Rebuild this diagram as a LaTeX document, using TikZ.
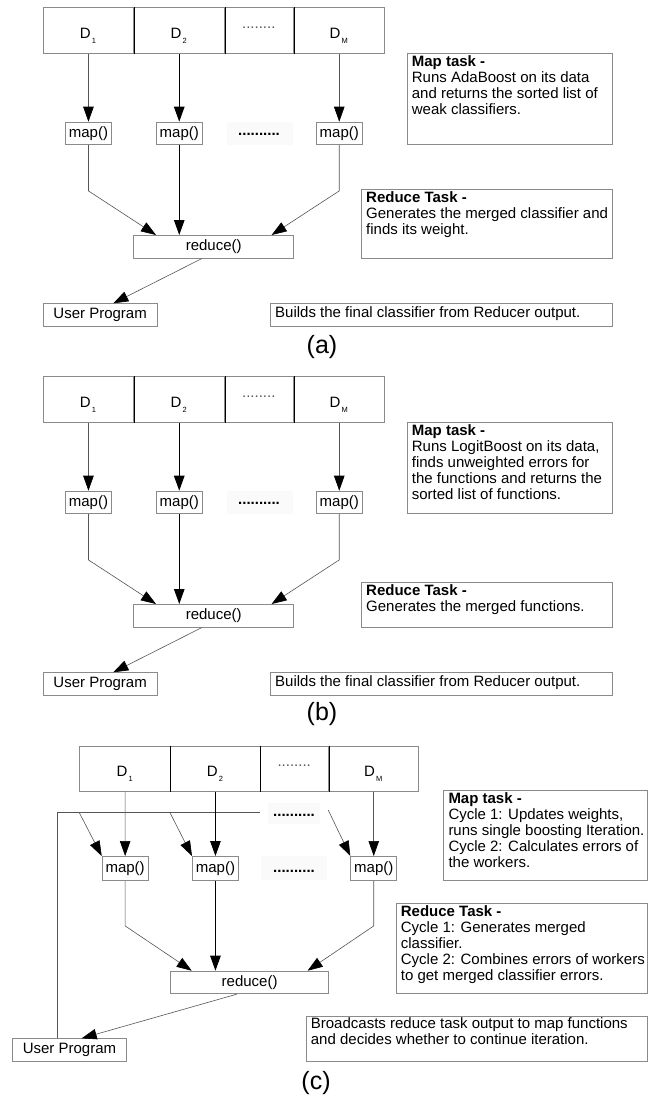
\documentclass[tikz,border=0pt]{standalone}
\usepackage{fontspec}
\setmainfont{Liberation Sans}
\usetikzlibrary{arrows.meta,calc}
\definecolor{boxgray}{HTML}{8A8A8A}
\definecolor{linegray}{HTML}{555555}
\definecolor{dotbg}{HTML}{FAFAFA}
\tikzset{
  every node/.style={font=\fontsize{15}{16}\selectfont},
  box/.style={draw=boxgray, line width=0.9pt, inner sep=0, anchor=north west},
  tip/.style={-{Triangle[length=15pt,width=10.5pt,color=black]}},
  thinline/.style={draw=linegray, line width=0.6pt},
  thickline/.style={draw=black, line width=1.1pt},
  divider/.style={draw=black, line width=1.1pt},
  txt/.style={anchor=base west, inner sep=0},
  dotsbg/.style={fill=dotbg, draw=none, inner sep=0, anchor=north west},
}
% [opts]{name}{x1}{y1}{x2}{y2}{text}
\newcommand\rbox[7][]{%
  \node[box,#1,minimum width={#5pt-#3pt},minimum height={#6pt-#4pt}] (#2) at (#3,#4) {#7};}
% {name}{x}{y}{text}
\newcommand\dtext[4]{%
  \node[txt] (#1) at (#2,#3) {\parbox[t]{420pt}{\raggedright #4}};}
\newcommand\dlab[1]{D\kern1.2pt\raisebox{-5pt}{\fontsize{7.5}{7.5}\selectfont #1}}

\newcommand\panelAB[1]{%
  \rbox{#1d1}{42.7}{7.3}{133.3}{53.3}{}
  \rbox{#1d2}{133.3}{7.3}{224.3}{53.3}{}
  \rbox{#1dd}{224.3}{7.3}{293.3}{53.3}{}
  \rbox{#1dm}{293.3}{7.3}{384.3}{53.3}{}
  \draw[divider] (#1d1.north east) -- (#1d1.south east);
  \draw[divider] (#1d2.north east) -- (#1d2.south east);
  \draw[divider] (#1dd.north east) -- (#1dd.south east);
  \node[anchor=base] (#1l1) at (88,38.3) {\dlab{1}};
  \node[anchor=base] (#1l2) at (178.8,38.3) {\dlab{2}};
  \node[anchor=base] (#1lm) at (338.8,38.3) {\dlab{M}};
  \node[anchor=base, text=linegray] (#1ld) at (258.8,28.5) {........};
  % map row
  \node[dotsbg, minimum width=66pt, minimum height=22.6pt] (#1mbg) at (226.7,121.7) {};
  \rbox{#1m1}{65}{121.7}{111}{144.3}{map()}
  \rbox{#1m2}{155.8}{121.7}{201.8}{144.3}{map()}
  \rbox{#1m3}{315.8}{121.7}{361.8}{144.3}{map()}
  \node[anchor=base, font=\fontsize{15}{16}\selectfont\bfseries] (#1md) at (259,135.5) {..........};
  % reduce, user
  \rbox{#1r}{133.3}{235}{293.3}{257.7}{reduce()}
  \rbox{#1u}{42.7}{303.3}{156.7}{326}{User Program}
  % connectors
  \draw[thinline,tip] (#1d1.south) -- (#1m1.north);
  \draw[thickline,tip] (#1d2.south) -- (#1m2.north);
  \draw[thinline,tip] (#1dm.south) -- (#1m3.north);
  \draw[thinline,tip] (#1m1.south) -- ++(0,45.7) -- ([xshift=22.7pt]#1r.north west);
  \draw[thickline,tip] (#1m2.south) -- (#1m2.south |- #1r.north);
  \draw[thinline,tip] (#1m3.south) -- ++(0,45.7) -- ([xshift=-22.6pt]#1r.north east);
  \draw[thinline,tip] ([xshift=68.4pt]#1r.south west) -- ([xshift=70.6pt]#1u.north west);
  % builds box
  \rbox{#1b}{270}{303.3}{611.7}{326}{}
  \dtext{#1bt}{275}{317.6}{Builds the final classifier from Reducer output.}
  % map task box
  \rbox{#1mt}{406.7}{53.3}{611.7}{144.3}{}
}

\begin{document}
\begin{tikzpicture}[x=1pt,y=-1pt]
\useasboundingbox[fill=white] (0,0) rectangle (658,1101);

% ---------------- (a)
\panelAB{a}
\dtext{amtt}{411.7}{66.8}{{\bfseries Map task -}\\Runs AdaBoost on its data\\and returns the sorted list of\\weak classifiers.}
\rbox{art}{361}{189.3}{611.7}{257.7}{}
\dtext{artt}{366}{202.8}{{\bfseries Reduce Task -}\\Generates the merged classifier and\\finds its weight.}
\node[font=\fontsize{25}{25}\selectfont] (acap) at (322,347) {(a)};

% ---------------- (b)
\begin{scope}[shift={(0,369)}]
\panelAB{b}
\dtext{bmtt}{411.7}{66.8}{{\bfseries Map task -}\\Runs LogitBoost on its data,\\finds unweighted errors for\\the functions and returns the\\sorted list of functions.}
\rbox{brt}{361}{212.7}{611.7}{257.7}{}
\dtext{brtt}{366}{226.2}{{\bfseries Reduce Task -}\\Generates the merged functions.}
\node[font=\fontsize{25}{25}\selectfont] (bcap) at (322,345) {(b)};
\end{scope}

% ---------------- (c)
\rbox{cd1}{79.3}{745.5}{170}{790.7}{}
\rbox{cd2}{170}{745.5}{260}{790.7}{}
\rbox{cdd}{260}{745.5}{328.3}{790.7}{}
\rbox{cdm}{328.3}{745.5}{418.3}{790.7}{}
\draw[divider] (cd1.north east) -- (cd1.south east);
\draw[divider] (cd2.north east) -- (cd2.south east);
\draw[divider] (cdd.north east) -- (cdd.south east);
\node[anchor=base] (cl1) at (124.7,776.5) {\dlab{1}};
\node[anchor=base] (cl2) at (215,776.5) {\dlab{2}};
\node[anchor=base] (clm) at (373.3,776.5) {\dlab{M}};
\node[anchor=base, text=linegray] (cld) at (294.2,766.7) {........};

\node[dotsbg, minimum width=52pt, minimum height=21pt] (cbbg) at (268,803) {};
\node[dotsbg, minimum width=66pt, minimum height=24pt] (cmbg) at (261,856) {};
\rbox{cm1}{101.7}{856}{147.7}{880}{map()}
\rbox{cm2}{192}{856}{238}{880}{map()}
\rbox{cm3}{350.3}{856}{396.3}{880}{map()}
\node[anchor=base, font=\fontsize{15}{16}\selectfont\bfseries] (cbd) at (294,816.5) {..........};
\node[anchor=base, font=\fontsize{15}{16}\selectfont\bfseries] (cmd) at (294,872.5) {..........};

\rbox{cr}{170}{970.7}{328.3}{993.3}{reduce()}
\rbox{cu}{12.3}{1038.3}{125.7}{1061}{User Program}

\coordinate (cbl) at (57.7,812.7);
\coordinate (cbe) at (260,812.7);
\draw[thinline] ([xshift=45.4pt]cu.north west) -- (cbl) -- (cbe);
\draw[thinline,tip] (cd1.south west |- cbl) -- (cm1.north west);
\draw[thinline,tip] (cd2.south west |- cbl) -- (cm2.north west);
\draw[thinline,tip] ([yshift=2.5pt]cdm.south west |- cbl) -- (cm3.north west);

\draw[thinline,tip] (cd1.south) -- (cm1.north);
\draw[thickline,tip] (cd2.south) -- (cm2.north);
\draw[thinline,tip] (cdm.south) -- (cm3.north);
\draw[thinline,tip] (cm1.south) -- ++(0,45) -- ([xshift=21.7pt]cr.north west);
\draw[thickline,tip] (cm2.south) -- (cm2.south |- cr.north);
\draw[thinline,tip] (cm3.south) -- ++(0,45) -- ([xshift=-21.6pt]cr.north east);
\draw[thinline,tip] ([xshift=66.7pt]cr.south west) -- ([xshift=69.4pt]cu.north west);

\rbox{cmt}{443.3}{790}{647}{880}{}
\dtext{cmtt}{448.3}{803.5}{{\bfseries Map task -}\\Cycle 1: Updates weights,\\runs single boosting Iteration.\\Cycle 2: Calculates errors of\\the workers.}
\rbox{crt}{395.7}{903.3}{647}{993.3}{}
\dtext{crtt}{400.7}{916.8}{{\bfseries Reduce Task -}\\Cycle 1: Generates merged\\classifier.\\Cycle 2: Combines errors of workers\\to get merged classifier errors.}
\rbox{cbt}{305.7}{1015.7}{647}{1061}{}
\dtext{cbtt}{310.7}{1028.8}{Broadcasts reduce task output to map functions\\and decides whether to continue iteration.}
\node[font=\fontsize{25}{25}\selectfont] (ccap) at (316,1083) {(c)};
\end{tikzpicture}
\end{document}
